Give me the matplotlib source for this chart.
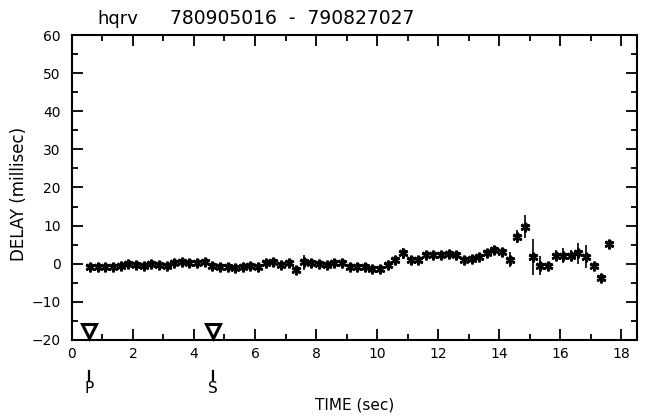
"""Delay vs time plot for station hqrv."""

import matplotlib
matplotlib.use("Agg")
import matplotlib.pyplot as plt
from matplotlib.ticker import MultipleLocator

# sample times (sec)
times = [
    0.60, 0.85, 1.10, 1.35, 1.60, 1.85, 2.10, 2.35, 2.60, 2.85,
    3.10, 3.35, 3.60, 3.85, 4.10, 4.35, 4.60, 4.85, 5.10, 5.35,
    5.60, 5.85, 6.10, 6.35, 6.60, 6.85, 7.10, 7.35, 7.60, 7.85,
    8.10, 8.35, 8.60, 8.85, 9.10, 9.35, 9.60, 9.85, 10.10, 10.35,
    10.60, 10.85, 11.10, 11.35, 11.60, 11.85, 12.10, 12.35, 12.60, 12.85,
    13.10, 13.35, 13.60, 13.85, 14.10, 14.35, 14.60, 14.85, 15.10, 15.35,
    15.60, 15.85, 16.10, 16.35, 16.60, 16.85, 17.10, 17.35, 17.60,
]
# delay (millisec)
delays = [
    -0.8, -0.8, -0.8, -0.8, -0.6, -0.1, -0.3, -0.5, -0.1, -0.3,
    -0.5, 0.3, 0.4, 0.3, 0.3, 0.4, -0.6, -0.8, -0.8, -1.1,
    -0.8, -0.5, -0.8, 0.1, 0.35, -0.35, 0.1, -1.7, 0.35, 0.1,
    -0.2, -0.35, 0.1, 0.1, -0.8, -0.8, -0.8, -1.4, -1.4, -0.35,
    1.0, 2.7, 1.0, 1.0, 2.4, 2.4, 2.3, 2.6, 2.3, 1.0,
    1.1, 1.8, 2.7, 3.6, 3.1, 1.0, 7.1, 9.7, 1.8, -0.5,
    -0.5, 2.1, 2.1, 2.1, 2.7, 1.8, -0.5, -3.7, 5.1,
]
# error bar half-widths (millisec)
errors = [
    0.4, 0.4, 0.4, 0.4, 0.4, 0.4, 0.4, 0.4, 0.4, 0.4,
    0.4, 0.4, 0.4, 0.4, 0.4, 0.4, 0.4, 0.4, 0.4, 0.4,
    0.4, 0.4, 0.4, 0.4, 0.4, 0.4, 0.4, 0.4, 2.0, 0.4,
    0.4, 0.4, 0.4, 0.4, 0.4, 0.4, 0.4, 0.4, 0.4, 0.4,
    0.4, 1.5, 0.4, 0.4, 0.4, 0.4, 0.4, 0.4, 0.4, 0.4,
    0.4, 0.6, 1.0, 0.8, 0.6, 2.0, 1.7, 3.0, 4.8, 2.4,
    0.6, 1.5, 2.0, 1.5, 2.8, 3.0, 0.5, 0.5, 0.5,
]

phase_names = ["P", "S"]
phase_times = [0.55, 4.62]

station = "hqrv"
event_pair = "780905016 - 790827027"

fig = plt.figure(figsize=(6.48, 4.18), dpi=100)
ax = fig.add_axes([0.111, 0.187, 0.872, 0.729])

ax.errorbar(times, delays, yerr=errors, fmt="none", ecolor="black",
            elinewidth=1.2, capsize=0)
ax.plot(times, delays, linestyle="none", marker=(6, 2, 0), markersize=7,
        markeredgewidth=1.7, color="black")
ax.plot(times, delays, linestyle="none", marker="x", markersize=5,
        markeredgewidth=1.4, color="black")

# phase arrival markers
ax.plot(phase_times, [-17.8] * len(phase_times), linestyle="none",
        marker="v", markersize=10, markerfacecolor="white",
        markeredgecolor="black", markeredgewidth=2.2, clip_on=False)
for name, t in zip(phase_names, phase_times):
    ax.plot([t, t], [-30.5, -28.3], color="black", linewidth=1.6, clip_on=False)
    ax.text(t, -30.8, name, ha="center", va="top", fontsize=11)

ax.set_xlim(0, 18.52)
ax.set_ylim(-20, 60)
ax.xaxis.set_major_locator(MultipleLocator(2))
ax.xaxis.set_minor_locator(MultipleLocator(1))
ax.yaxis.set_major_locator(MultipleLocator(10))
ax.yaxis.set_minor_locator(MultipleLocator(5))
ax.tick_params(which="both", direction="in", top=True, right=True,
               width=1.3, labelsize=10)
ax.tick_params(axis="x", pad=5)
ax.tick_params(axis="y", pad=8)
ax.tick_params(which="major", length=8)
ax.tick_params(which="minor", length=4)
for spine in ax.spines.values():
    spine.set_linewidth(1.5)

fig.text(0.548, 0.032, "TIME (sec)", fontsize=11, ha="center", va="center")
fig.text(0.030, 0.535, "DELAY (millisec)", fontsize=12, rotation=90,
         ha="center", va="center")
fig.text(0.151, 0.955, station, fontsize=13, ha="left", va="center")
fig.text(0.262, 0.955, event_pair.replace(" - ", "  -  "), fontsize=13.5,
         ha="left", va="center")

fig.savefig("out.png", dpi=100)
